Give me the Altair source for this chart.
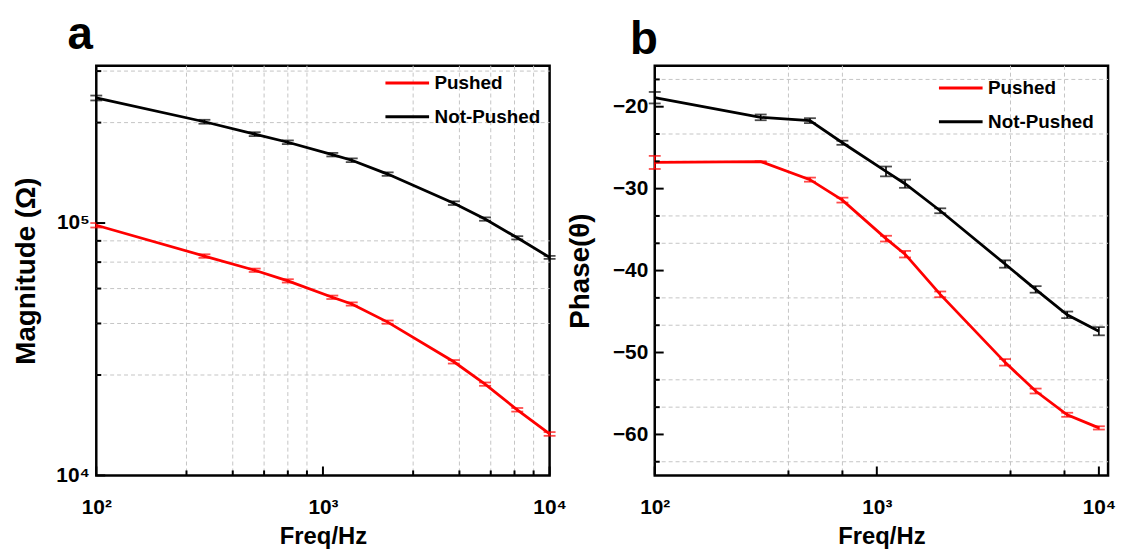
import altair as alt
import pandas as pd

FONT = "Liberation Sans, Arial, sans-serif"

# ---------------- data ----------------
freq = [100, 300, 500, 700, 1100, 1340, 1930, 3780, 5190, 7200, 10000]
series_names = ["Pushed", "Not-Pushed"]

mag_pushed = [9.8e4, 7.4e4, 6.5e4, 5.9e4, 5.08e4, 4.78e4, 4.05e4, 2.82e4, 2.30e4, 1.82e4, 1.46e4]
mag_pushed_err = [2.0e3, 1.2e3, 1.0e3, 0.9e3, 0.8e3, 0.7e3, 0.6e3, 0.45e3, 0.35e3, 0.3e3, 0.25e3]
mag_not = [3.13e5, 2.52e5, 2.25e5, 2.09e5, 1.866e5, 1.773e5, 1.563e5, 1.199e5, 1.037e5, 8.74e4, 7.31e4]
mag_not_err = [7e3, 4.5e3, 4e3, 3.5e3, 3e3, 3e3, 2.5e3, 2e3, 1.6e3, 1.3e3, 1.0e3]

phase_pushed = [-26.8, -26.7, -28.9, -31.4, -36.1, -38.0, -42.9, -51.2, -54.7, -57.6, -59.2]
phase_pushed_err = [0.8, 0.05, 0.25, 0.3, 0.35, 0.4, 0.35, 0.4, 0.3, 0.25, 0.2]
phase_not = [-18.9, -21.3, -21.7, -24.4, -27.9, -29.4, -32.7, -39.2, -42.3, -45.4, -47.4]
phase_not_err = [0.7, 0.35, 0.3, 0.25, 0.6, 0.5, 0.3, 0.45, 0.4, 0.4, 0.5]

# axis ticks
a_x_major = [100, 1000, 10000]
a_x_minor = [250, 400, 550, 700, 850, 2500, 4000, 5500, 7000, 8500]
a_y_major = [1e4, 1e5]
a_y_minor = [2.5e4, 4e4, 5.5e4, 7e4, 8.5e4, 2.5e5, 4e5]

b_x_major = [100, 1000, 10000]
b_x_minor = [400, 700, 4000, 7000]
b_y_major = [-60, -50, -40, -30, -20]
b_y_minor = [-63.33, -56.67, -53.33, -46.67, -43.33, -36.67, -33.33, -26.67, -23.33, -16.67]

W, H = 457, 413


def make_df(v1, e1, v2, e2):
    rows = []
    for name, vals, errs in ((series_names[0], v1, e1), (series_names[1], v2, e2)):
        for f, v, e in zip(freq, vals, errs):
            rows.append({"freq": f, "val": v, "lo": v - e, "hi": v + e, "series": name})
    return pd.DataFrame(rows)


def caps_df(df):
    a = df[["freq", "lo", "series"]].rename(columns={"lo": "cap"})
    b = df[["freq", "hi", "series"]].rename(columns={"hi": "cap"})
    return pd.concat([a, b], ignore_index=True)


XLABEL = ("datum.value == 100 ? '10\u00b2' : datum.value == 1000 ? '10\u00b3' : "
          "datum.value == 10000 ? '10\u2074' : ''")


def panel(df, xscale, yscale, ytitle, ylabelexpr, x_major, x_minor, y_major, y_minor,
          legx, legy, letter, ytitlepad, title_dx):
    color_scale = alt.Scale(domain=series_names, range=["#ff0000", "#000000"])
    tick_color = "#000000"

    x_axis = alt.Axis(values=x_major, labelExpr=XLABEL, title="Freq/Hz", grid=False,
                      ticks=False, domain=False, labelFont=FONT, labelFontSize=21,
                      labelFontWeight="bold", labelColor="#000", labelPadding=21,
                      labelFlush=False, labelOverlap=False,
                      titleFont=FONT, titleFontSize=24, titleFontWeight="bold",
                      titleColor="#000", titlePadding=8)
    y_axis_kw = dict(values=y_major, title=ytitle, grid=False, ticks=False, domain=False,
                     labelFont=FONT, labelFontSize=21, labelFontWeight="bold",
                     labelColor="#000", labelPadding=7, labelFlush=False,
                     labelOverlap=False, titleFont=FONT, titleFontSize=28,
                     titleFontWeight="bold", titleColor="#000", titlePadding=ytitlepad)
    if ylabelexpr:
        y_axis_kw["labelExpr"] = ylabelexpr
    y_axis = alt.Axis(**y_axis_kw)

    def X(field):
        return alt.X(field, scale=xscale, axis=x_axis)

    def Y(field):
        return alt.Y(field, scale=yscale, axis=y_axis)

    gx = pd.DataFrame({"v": x_minor})
    gy = pd.DataFrame({"v": y_minor})
    tx_major = pd.DataFrame({"v": x_major})
    ty_major = pd.DataFrame({"v": y_major})

    grid_style = dict(color="#c4c4c4", strokeWidth=1, strokeDash=[4, 3])

    xgrid = alt.Chart(gx).mark_rule(**grid_style).encode(
        x=X("v:Q"), y=alt.value(0), y2=alt.value(H))
    ygrid = alt.Chart(gy).mark_rule(**grid_style).encode(
        y=Y("v:Q"), x=alt.value(0), x2=alt.value(W))

    lines = alt.Chart(df).mark_line(strokeWidth=2.8).encode(
        x=X("freq:Q"),
        y=Y("val:Q"),
        color=alt.Color("series:N", scale=color_scale,
                        legend=alt.Legend(orient="none", legendX=legx, legendY=legy,
                                          title=None, symbolType="stroke",
                                          symbolSize=1936, symbolStrokeWidth=3,
                                          labelFont=FONT, labelFontSize=19,
                                          labelFontWeight="bold", labelColor="#000",
                                          labelOffset=4, rowPadding=-16, padding=0)),
        detail="series:N")

    err = alt.Chart(df).mark_rule(strokeWidth=1.6).encode(
        x=X("freq:Q"),
        y=Y("lo:Q"), y2="hi:Q",
        color=alt.Color("series:N", scale=color_scale, legend=None))

    caps = alt.Chart(caps_df(df)).mark_tick(orient="horizontal", size=12, thickness=1.8).encode(
        x=X("freq:Q"),
        y=Y("cap:Q"),
        color=alt.Color("series:N", scale=color_scale, legend=None))

    tick_style = dict(color=tick_color, strokeWidth=2)
    xt_major = alt.Chart(tx_major).mark_rule(**tick_style).encode(
        x=X("v:Q"), y=alt.value(H), y2=alt.value(H - 9))
    xt_minor = alt.Chart(gx).mark_rule(**tick_style).encode(
        x=X("v:Q"), y=alt.value(H), y2=alt.value(H - 5))
    yt_major = alt.Chart(ty_major).mark_rule(**tick_style).encode(
        y=Y("v:Q"), x=alt.value(0), x2=alt.value(9))
    yt_minor = alt.Chart(gy).mark_rule(**tick_style).encode(
        y=Y("v:Q"), x=alt.value(0), x2=alt.value(5))

    return alt.layer(xgrid, ygrid, lines, err, caps, xt_major, xt_minor, yt_major, yt_minor).properties(
        width=W, height=H,
        title=alt.TitleParams(letter, anchor="start", frame="group", fontSize=46,
                              fontWeight="bold", font=FONT, color="#000",
                              dx=title_dx, offset=1))


df_a = make_df(mag_pushed, mag_pushed_err, mag_not, mag_not_err)
df_b = make_df(phase_pushed, phase_pushed_err, phase_not, phase_not_err)

xs_a = alt.Scale(type="log", domain=[100, 10000], nice=False)
ys_a = alt.Scale(type="log", domain=[1e4, 4.2e5], nice=False)
xs_b = alt.Scale(type="log", domain=[100, 11000], nice=False)
ys_b = alt.Scale(type="linear", domain=[-65, -15], nice=False, zero=False)

YLABEL_A = "datum.value == 10000 ? '10\u2074' : datum.value == 100000 ? '10\u2075' : ''"

pa = panel(df_a, xs_a, ys_a, "Magnitude (\u03a9)", YLABEL_A, a_x_major, a_x_minor,
           a_y_major, a_y_minor, 290, -6, "a", 16, -29)
pb = panel(df_b, xs_b, ys_b, "Phase(\u03b8)", None, b_x_major, b_x_minor,
           b_y_major, b_y_minor, 285, -1, "b", 18, -25)

chart = alt.hconcat(pa, pb, spacing=106, bounds="flush").resolve_scale(
    color="independent").resolve_legend(color="independent").properties(
    padding={"left": 3, "top": 0, "right": 0, "bottom": 0},
    background="white").configure_view(stroke="black", strokeWidth=2.5)

chart.save("out.html", embed_options={"renderer": "svg", "actions": False})
